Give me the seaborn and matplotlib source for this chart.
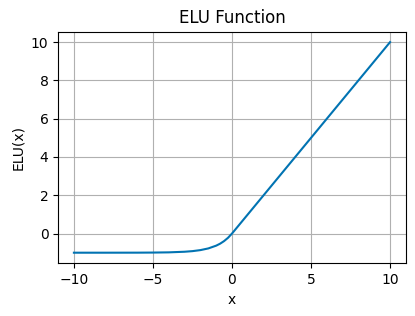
import matplotlib
matplotlib.use("Agg")
import matplotlib.pyplot as plt
import seaborn as sns
import pandas as pd

x_values = [-10, -8, -6, -5, -4, -3, -2.5, -2, -1.5, -1, -0.75, -0.5, -0.25, 0, 1, 2, 5, 10]
elu_values = [-1.0, -1.0, -0.998, -0.993, -0.982, -0.950, -0.918, -0.865, -0.777, -0.632,
              -0.528, -0.393, -0.221, 0, 1, 2, 5, 10]

df = pd.DataFrame({"x": x_values, "ELU(x)": elu_values})

fig, ax = plt.subplots(figsize=(4.15, 3.16), dpi=100)
sns.lineplot(data=df, x="x", y="ELU(x)", color="#0173B2", linewidth=1.5, ax=ax)
ax.set_title("ELU Function", fontsize=12)
ax.set_xlabel("x")
ax.set_ylabel("ELU(x)")
ax.grid(True, color="#b0b0b0", linewidth=0.8)
ax.set_xticks([-10, -5, 0, 5, 10])
ax.set_yticks([0, 2, 4, 6, 8, 10])
fig.subplots_adjust(left=0.14, right=0.978, top=0.9, bottom=0.167)
fig.savefig("out.png", dpi=100)
